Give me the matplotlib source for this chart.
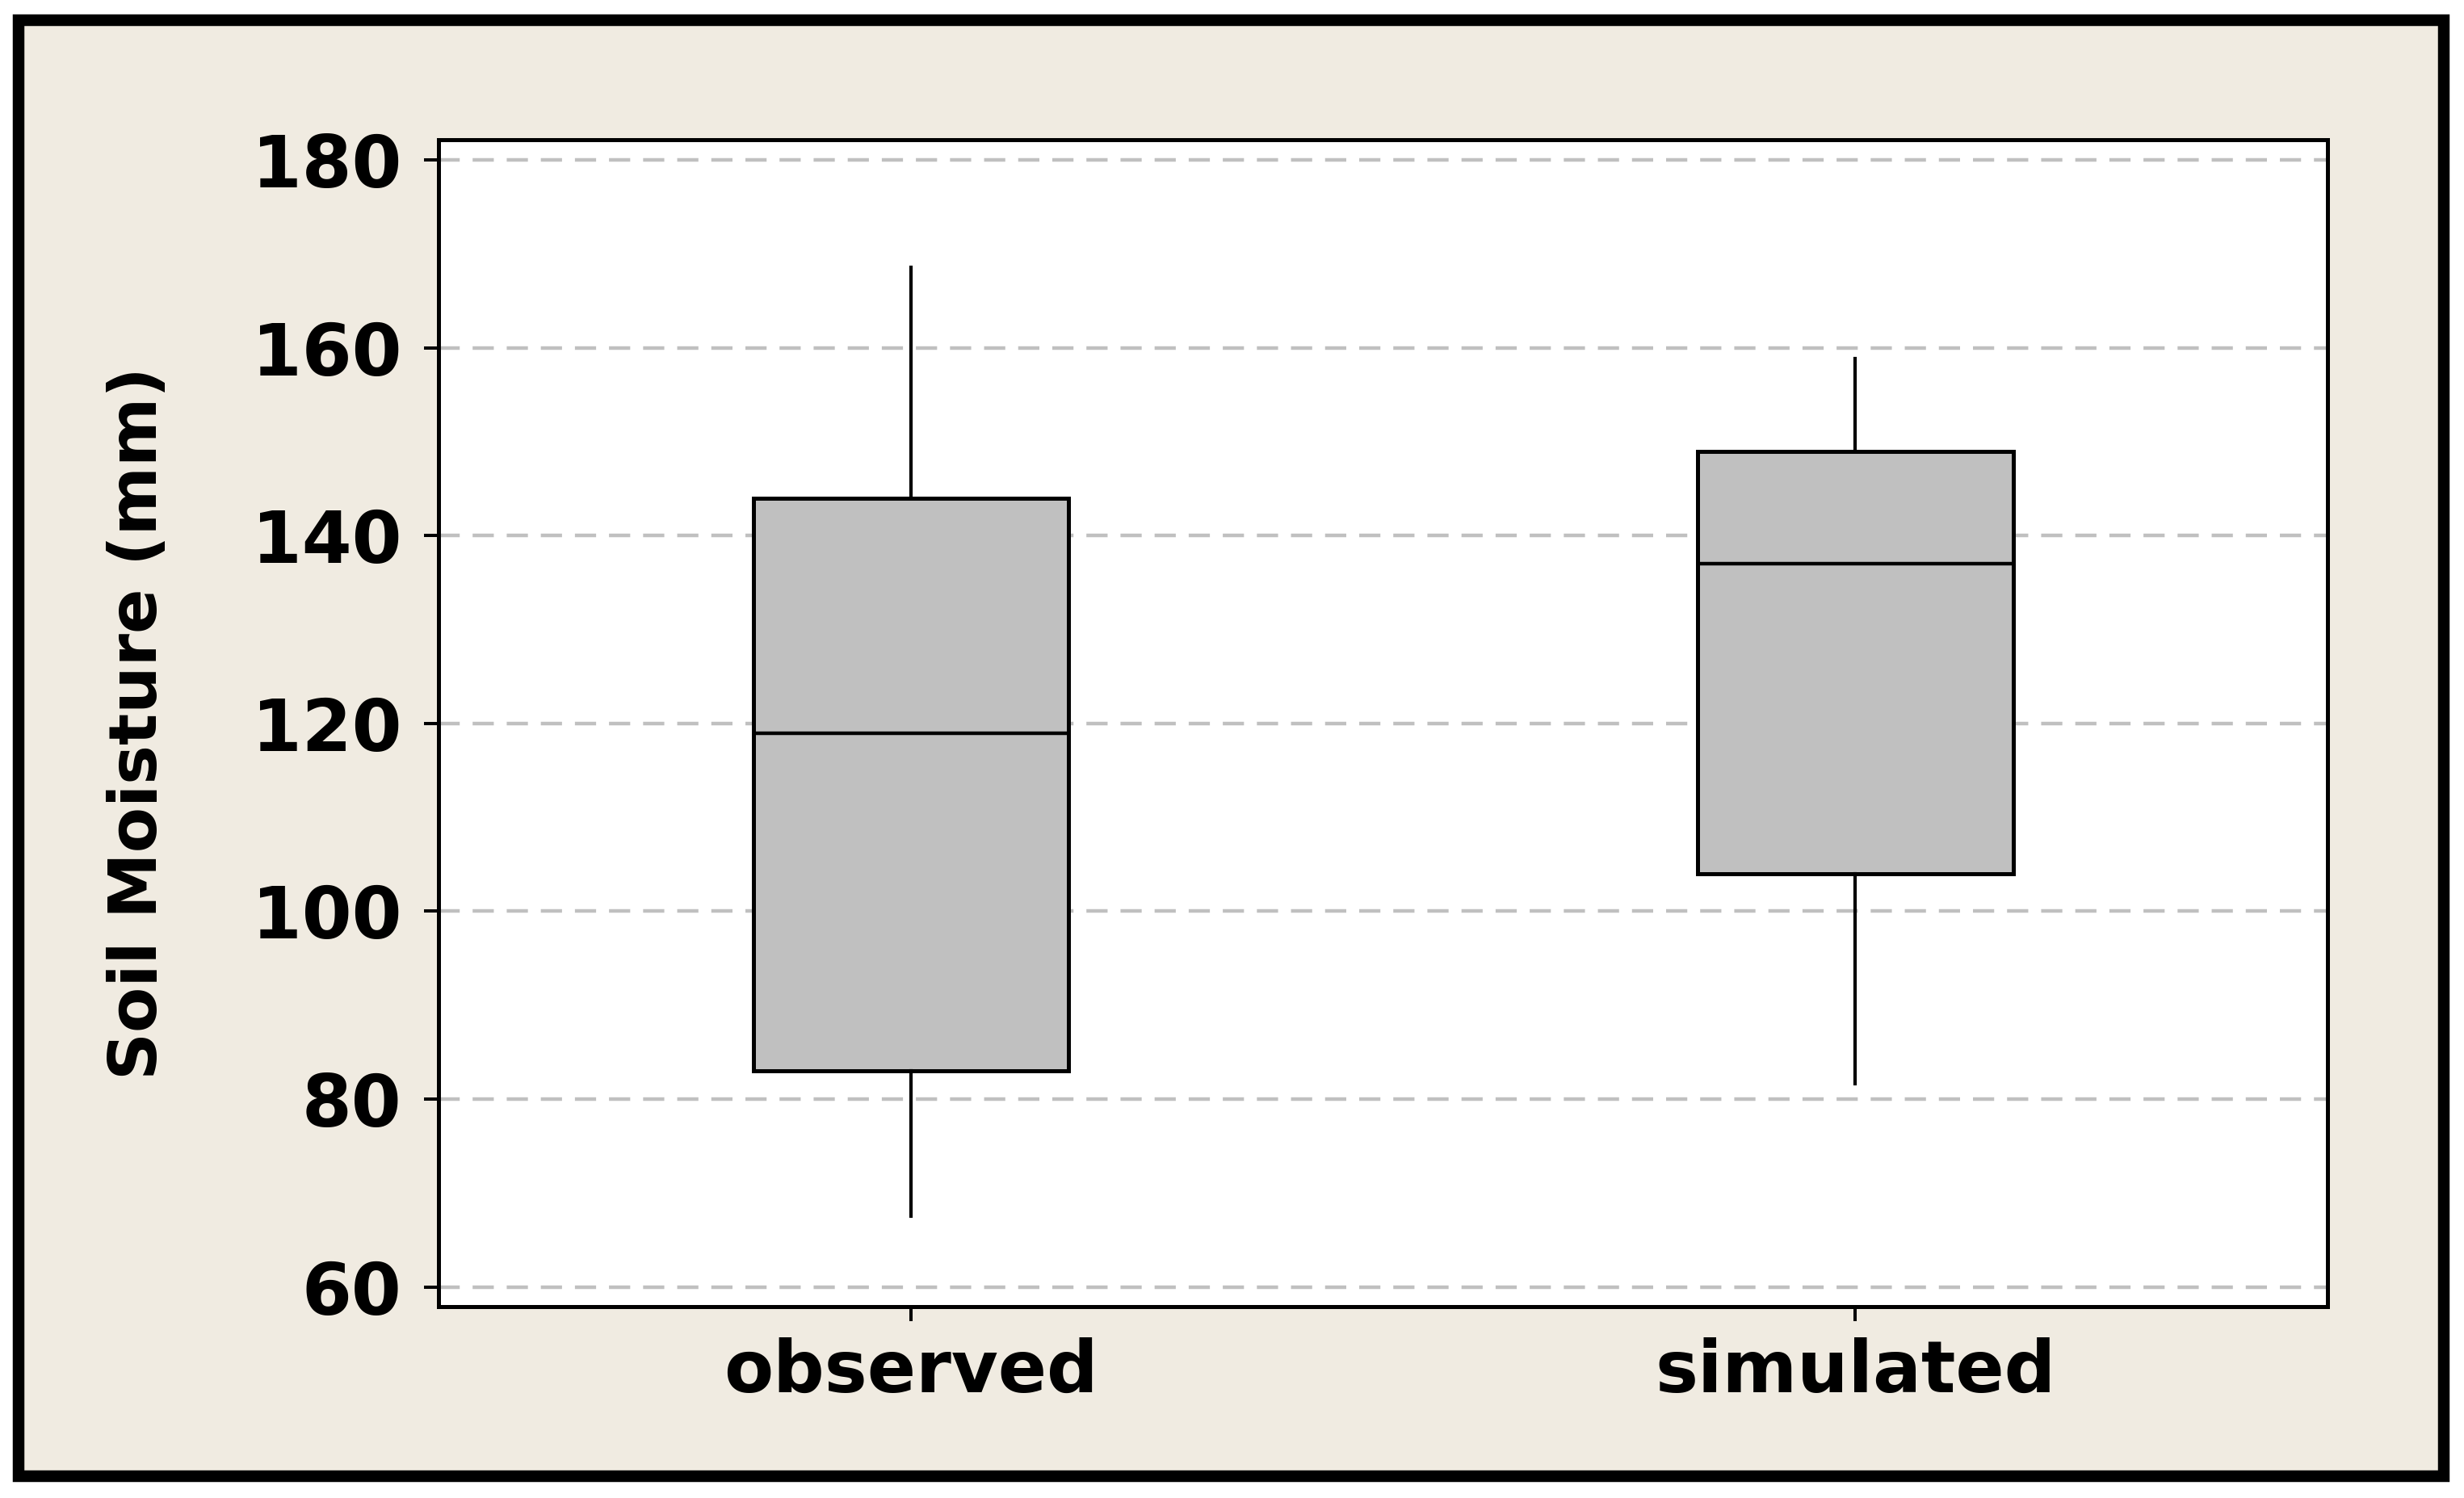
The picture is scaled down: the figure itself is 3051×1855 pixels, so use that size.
import matplotlib
matplotlib.use("Agg")
import matplotlib.pyplot as plt
from matplotlib.patches import Rectangle

# box plot summary values
groups = ['observed', 'simulated']
whisker_low = [67.5, 81.6]
q1 = [83.0, 104.0]
median = [119.0, 137.0]
q3 = [144.0, 149.0]
whisker_high = [168.6, 158.9]
yticks = [60, 80, 100, 120, 140, 160, 180]

plt.rcParams['font.family'] = 'DejaVu Sans'
plt.rcParams['font.weight'] = 'bold'

fig = plt.figure(figsize=(15.255, 9.275), dpi=200, facecolor='white')

# beige panel with thick black frame, kept under the axes
frame = Rectangle((0.0075, 0.0146), 0.9843, 0.9719, transform=fig.transFigure,
                  facecolor='#f0ebe1', edgecolor='black', linewidth=5.2, zorder=-10)
fig.patches.append(frame)

ax = fig.add_axes([0.178, 0.1278, 0.7666, 0.779])
ax.set_facecolor('white')

stats = []
for i, g in enumerate(groups):
    stats.append({'label': g, 'whislo': whisker_low[i], 'q1': q1[i], 'med': median[i],
                  'q3': q3[i], 'whishi': whisker_high[i]})

ax.bxp(stats, positions=[1, 2], widths=0.334, showcaps=False, showfliers=False,
       patch_artist=True,
       boxprops=dict(facecolor='#c0c0c0', edgecolor='black', linewidth=1.8),
       whiskerprops=dict(color='black', linewidth=1.5),
       medianprops=dict(color='black', linewidth=1.6), zorder=3)

ax.set_xlim(0.5, 2.5)
ax.set_ylim(57.9, 182.2)
ax.set_yticks(yticks)
ax.set_xticks([1, 2])
ax.set_xticklabels(groups)

ax.yaxis.grid(True, color='#c0c0c0', linewidth=1.6, linestyle=(0, (5.9, 3.6)), zorder=0)
ax.set_axisbelow(True)

for s in ax.spines.values():
    s.set_linewidth(1.8)
ax.tick_params(axis='both', direction='out', length=6.5, width=1.45, labelsize=32)
ax.tick_params(axis='y', pad=10)
ax.tick_params(axis='x', pad=7)
for lab in ax.get_xticklabels() + ax.get_yticklabels():
    lab.set_fontweight('bold')

ax.set_ylabel('Soil Moisture (mm)', fontsize=29.5, fontweight='bold', va='center')
ax.yaxis.set_label_coords(-0.159, 0.5)

plt.savefig('out.png', dpi=200, facecolor=fig.get_facecolor())
